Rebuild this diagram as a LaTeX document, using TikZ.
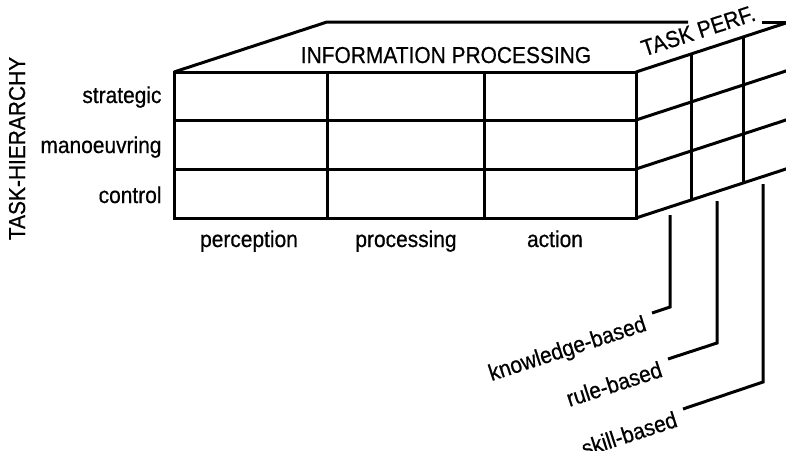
\documentclass[tikz,border=0pt]{standalone}
\usepackage{fontspec}
\setmainfont[FakeStretch=0.91, FakeBold=0.6]{Liberation Sans}
\usepackage{tikz}
\usetikzlibrary{positioning}

\begin{document}
\begin{tikzpicture}[x=1pt, y=-1pt, line width=3pt, line join=miter,
		lbl/.style={font=\fontsize{23}{27}\selectfont, inner sep=0pt},
		slant/.style={lbl, rotate=18, anchor=north east, inner xsep=8pt, inner ysep=-3pt}]
			\useasboundingbox (0, 0) rectangle (786, 450);
			\clip (0, 0) rectangle (786, 450);
			% Corners of the block:
			\coordinate (ftl) at (174, 72);
			\coordinate (ftr) at (636, 72);
			\coordinate (fbr) at (636, 218);
			\coordinate (fbl) at (174, 218);
			\coordinate (btl) at (327, 22);
			\coordinate (btr) at (789, 22);
			\coordinate (bbr) at (789, 168);
			% Front face:
			\draw (ftl) rectangle (fbr);
			\draw (327, 72) -- (327, 218);
			\draw (484, 72) -- (484, 218);
			\draw (174, 120) -- (636, 120);
			\draw (174, 169) -- (636, 169);
			% Top face:
			\draw (ftl) -- (btl) -- (688, 22);
			\draw (762, 22) -- (btr);
			% Side face:
			\draw (ftr) -- (btr);
			\draw (636, 120) -- (789, 70);
			\draw (636, 169) -- (789, 119);
			\draw (fbr) -- (bbr);
			\draw (691, 54) -- (691, 200);
			\draw (743, 37) -- (743, 183);
			% Labels:
			\node[lbl, anchor=base](info) at (446, 63){INFORMATION PROCESSING};
			\node[lbl, anchor=base west, rotate=18](taskp) at (643, 57){TASK PERF.};
			\node[lbl, anchor=base, rotate=90](taskh) at (25, 148.5){TASK-HIERARCHY};
			\node[lbl, anchor=base east](strat) at (163, 103){strategic};
			\node[lbl, anchor=base east](manoe) at (163, 153){manoeuvring};
			\node[lbl, anchor=base east](ctrl) at (163, 203){control};
			\node[lbl, anchor=base](perc) at (249, 247){perception};
			\node[lbl, anchor=base](proc) at (406, 247){processing};
			\node[lbl, anchor=base](act) at (555, 247){action};
			% Leaders to the side face:
			\coordinate (kt) at (670, 215);
			\coordinate (rt) at (717, 201);
			\coordinate (st) at (763, 184);
			\node[slant](kb) at (652, 313){knowledge-based};
			\node[slant](rb) at (668, 359){rule-based};
			\node[slant](sb) at (683, 409){skill-based};
			\draw (kt) -- (670, 307) -- (kb.north east);
			\draw (rt) -- (717, 343) -- (rb.north east);
			\draw (st) -- (763, 382) -- (sb.north east);
		\end{tikzpicture}
\end{document}
